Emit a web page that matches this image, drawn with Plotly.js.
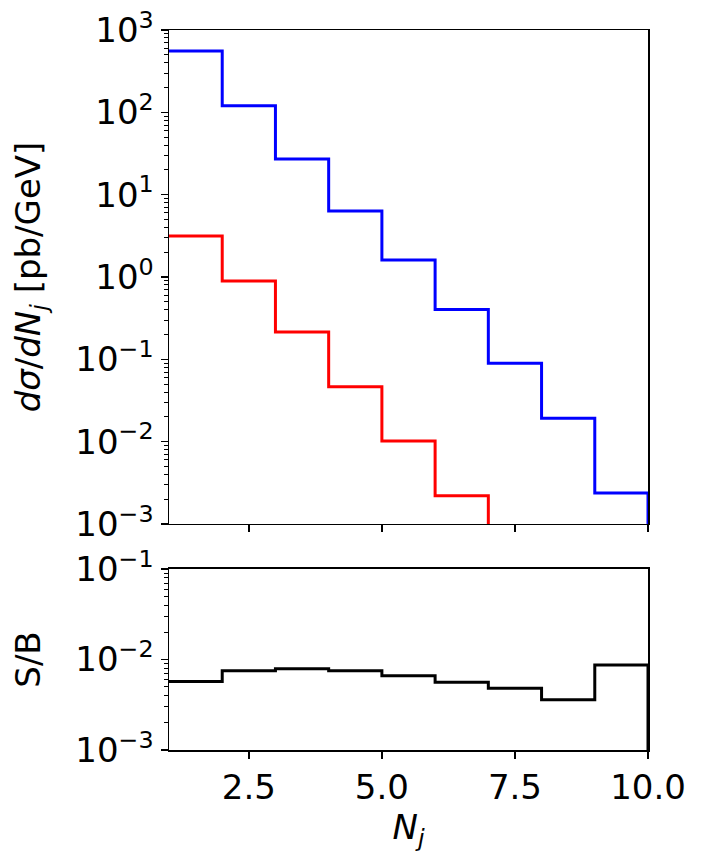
<!DOCTYPE html>
<html>
<head>
<meta charset="utf-8">
<script src="https://cdn.plot.ly/plotly-3.0.1.min.js"></script>
<style>html,body{margin:0;padding:0;background:#fff;}#chart{width:706px;height:866px;}</style>
</head>
<body>
<div id="chart"></div>
<script>
// Bin edges of N_j
const binEdges = [1, 2, 3, 4, 5, 6, 7, 8, 9, 10];
// Background (blue) dσ/dN_j [pb/GeV]
const background = [556, 120, 27.1, 6.34, 1.61, 0.402, 0.0894, 0.0193, 0.00238];
// Signal (red) dσ/dN_j [pb/GeV]  (last bins fall below the axis)
const signal = [3.15, 0.893, 0.215, 0.0465, 0.0102, 0.00221, 0.00043, 0.000068, 0.000021];
// Ratio S/B
const ratioSB = [0.0057, 0.0075, 0.0079, 0.0075, 0.0066, 0.0056, 0.0048, 0.0036, 0.0087];

const topTickVals = [1e-3, 1e-2, 1e-1, 1, 10, 100, 1000];
const topTickText = ['10<sup>−3</sup>', '10<sup>−2</sup>', '10<sup>−1</sup>', '10<sup>0</sup>', '10<sup>1</sup>', '10<sup>2</sup>', '10<sup>3</sup>'];
const botTickVals = [1e-3, 1e-2, 1e-1];
const botTickText = ['10<sup>−3</sup>', '10<sup>−2</sup>', '10<sup>−1</sup>'];
const xTickVals = [2.5, 5.0, 7.5, 10.0];
const xTickText = ['2.5', '5.0', '7.5', '10.0'];

function minorLog(lo, hi) {
  const v = [];
  for (let d = lo; d < hi; d++) for (let m = 2; m <= 9; m++) v.push(m * Math.pow(10, d));
  return v;
}

// matplotlib-style step histogram, dropping to the floor at the last edge
function stepTrace(vals, color, xa, ya, floor) {
  const x = binEdges.concat([binEdges[binEdges.length - 1]]);
  const y = vals.concat([vals[vals.length - 1]], [floor]);
  return {x: x, y: y, type: 'scatter', mode: 'lines', line: {shape: 'hv', color: color, width: 3},
          xaxis: xa, yaxis: ya, hoverinfo: 'skip', showlegend: false};
}

const FONT = 'DejaVu Sans, sans-serif';
const TF = {family: FONT, size: 34, color: 'black'};

const traces = [
  stepTrace(background, '#0000ff', 'x2', 'y2', 1e-6),
  stepTrace(signal, '#ff0000', 'x2', 'y2', 1e-6),
  stepTrace(ratioSB, '#000000', 'x', 'y', 1e-6)
];

const axisCommon = {
  showgrid: false, zeroline: false, showline: true, mirror: true, layer: 'above traces',
  linecolor: 'black', linewidth: 1.5, ticks: 'outside', ticklen: 7, tickwidth: 1.5,
  tickcolor: 'black', tickfont: TF
};

const layout = {
  width: 706, height: 866,
  margin: {l: 169, r: 58, t: 30, b: 116},
  paper_bgcolor: 'white', plot_bgcolor: 'white',
  showlegend: false,
  xaxis: Object.assign({}, axisCommon, {
    domain: [0, 1], anchor: 'y', range: [1, 10],
    tickmode: 'array', tickvals: xTickVals, ticktext: xTickText,
    title: {text: '<i>N<sub>j</sub></i>', font: {family: FONT, size: 34, color: 'black'}, standoff: 8}
  }),
  yaxis: Object.assign({}, axisCommon, {
    domain: [0, 0.2514], anchor: 'x', type: 'log', range: [-3, -1],
    tickmode: 'array', tickvals: botTickVals, ticktext: botTickText,
    minor: {ticks: 'outside', ticklen: 4, tickwidth: 1, tickcolor: 'black', tickmode: 'array', tickvals: minorLog(-3, -1), showgrid: false},
    title: {text: 'S/B', font: {family: FONT, size: 34, color: 'black'}, standoff: 24}
  }),
  xaxis2: Object.assign({}, axisCommon, {
    domain: [0, 1], anchor: 'y2', range: [1, 10], matches: 'x',
    tickmode: 'array', tickvals: xTickVals, showticklabels: false
  }),
  yaxis2: Object.assign({}, axisCommon, {
    domain: [0.3139, 1], anchor: 'x2', type: 'log', range: [-3, 3],
    tickmode: 'array', tickvals: topTickVals, ticktext: topTickText,
    minor: {ticks: 'outside', ticklen: 4, tickwidth: 1, tickcolor: 'black', tickmode: 'array', tickvals: minorLog(-3, 3), showgrid: false},
    title: {text: '<i>dσ</i>/<i>dN<sub>j</sub></i> [pb/GeV]', font: {family: FONT, size: 34, color: 'black'}, standoff: 24}
  })
};

Plotly.newPlot('chart', traces, layout, {staticPlot: true, displayModeBar: false});
</script>
</body>
</html>
